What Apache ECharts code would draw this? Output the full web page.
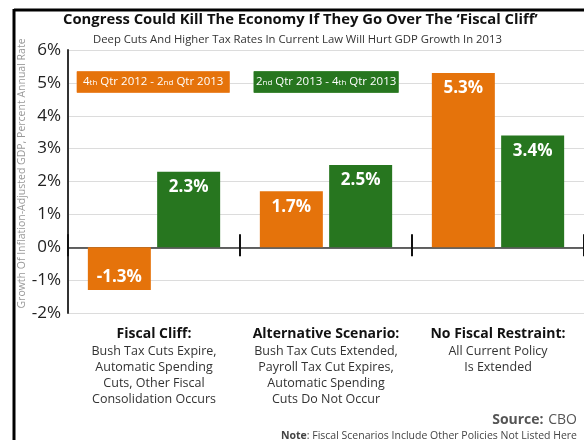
<!DOCTYPE html>
<html><head><meta charset="utf-8">
<script src="https://cdn.jsdelivr.net/npm/echarts@6/dist/echarts.min.js"></script>
<style>html,body{margin:0;padding:0;background:#fff}#c{width:584px;height:440px}</style>
</head><body><div id="c"></div>
<script>
var categories = ['Fiscal Cliff:', 'Alternative Scenario:', 'No Fiscal Restraint:'];
var descriptions = [
  ['Bush Tax Cuts Expire,', 'Automatic Spending', 'Cuts, Other Fiscal', 'Consolidation Occurs'],
  ['Bush Tax Cuts Extended,', 'Payroll Tax Cut Expires,', 'Automatic Spending', 'Cuts Do Not Occur'],
  ['All Current Policy', 'Is Extended']
];
var seriesNames = ['4th Qtr 2012 - 2nd Qtr 2013', '2nd Qtr 2013 - 4th Qtr 2013'];
var firstHalf = [-1.3, 1.7, 5.3];
var secondHalf = [2.3, 2.5, 3.4];
var yTicks = { min: -2, max: 6, interval: 1 };

var ORANGE = '#E5730B', GREEN = '#27761F';
var FONT = '"Open Sans", "Noto Sans", sans-serif';

function ordinalRich(s) {
  var parts = s.split(/(\d)(st|nd|rd|th)\b/);
  var out = '';
  for (var i = 0; i < parts.length; i++) {
    if (i % 3 === 2) out += '{s|' + parts[i] + '}';
    else if (parts[i]) out += '{n|' + parts[i] + '}';
  }
  return out;
}

function mkBarData(vals, color) {
  return vals.map(function (v) {
    return {
      value: v,
      itemStyle: { color: color },
      label: { position: v < 0 ? 'insideBottom' : 'insideTop', distance: v < 0 ? 4 : 7 }
    };
  });
}

var chart = echarts.init(document.getElementById('c'), null, { renderer: 'canvas' });
chart.setOption({
  animation: false,
  textStyle: { fontFamily: FONT },
  title: [
    { text: "Congress Could Kill The Economy If They Go Over The \u2018Fiscal Cliff\u2019", left: 58, top: 7,
      textStyle: { fontSize: 14.8, fontWeight: 'bold', color: '#111', fontFamily: FONT } },
    { text: 'Deep Cuts And Higher Tax Rates In Current Law Will Hurt GDP Growth In 2013', left: 88, top: 29,
      textStyle: { fontSize: 11.3, fontWeight: 'normal', color: '#333', fontFamily: FONT } },
    { text: '{b|Source:} {r|CBO}', right: 2, top: 406,
      textStyle: { fontWeight: 'normal', rich: { b: { fontSize: 14, fontWeight: 'bold', color: '#555', fontFamily: FONT }, r: { fontSize: 14, fontWeight: 'normal', color: '#555', fontFamily: FONT } } } },
    { text: '{b|Note}{r|: Fiscal Scenarios Include Other Policies Not Listed Here}', right: 2, top: 426,
      textStyle: { fontWeight: 'normal', rich: { b: { fontSize: 10.5, fontWeight: 'bold', color: '#444', fontFamily: FONT }, r: { fontSize: 10.5, fontWeight: 'normal', color: '#444', fontFamily: FONT } } } }
  ],
  graphic: [
    { type: 'line', shape: { x1: 14, y1: 10, x2: 584, y2: 10 }, style: { stroke: '#000', lineWidth: 3 } },
    { type: 'line', shape: { x1: 14, y1: 9, x2: 14, y2: 440 }, style: { stroke: '#000', lineWidth: 3 } }
  ],
  legend: {
    left: 67, top: 66, itemWidth: 0, itemHeight: 0, itemGap: 19, icon: 'rect', selectedMode: false,
    formatter: function (n) { return ordinalRich(n); },
    textStyle: {
      color: '#fff', padding: [4, 6, 4, 6], fontFamily: FONT,
      rich: {
        n: { fontSize: 11.5, color: '#fff', fontFamily: FONT, lineHeight: 13 },
        s: { fontSize: 8, color: '#fff', fontFamily: FONT, lineHeight: 13, padding: [2, 0, 0, 0] }
      }
    },
    data: [
      { name: seriesNames[0], textStyle: { backgroundColor: ORANGE, borderColor: '#f0a060', borderWidth: 0.5 } },
      { name: seriesNames[1], textStyle: { backgroundColor: GREEN, borderColor: '#5a9a52', borderWidth: 0.5, padding: [4, 2, 4, 2] } }
    ]
  },
  grid: { left: 68, right: -5, top: 50, bottom: 127, containLabel: false },
  xAxis: [
    { type: 'category', data: categories, position: 'bottom',
      axisLine: { show: false, onZero: false }, axisTick: { show: false }, splitLine: { show: false },
      axisLabel: {
        margin: 12, interval: 0,
        formatter: function (v, i) {
          return '{h|' + v + '}\n' + descriptions[i].map(function (d) { return '{d|' + d + '}'; }).join('\n');
        },
        rich: {
          h: { fontSize: 14, fontWeight: 'bold', color: '#111', fontFamily: FONT, lineHeight: 18 },
          d: { fontSize: 12.5, color: '#333', fontFamily: FONT, lineHeight: 16 }
        }
      } },
    { type: 'category', data: categories, position: 'bottom',
      axisLine: { show: true, onZero: true, lineStyle: { color: '#333', width: 1.5 } },
      axisTick: { show: true, inside: false, length: 9, lineStyle: { color: '#111', width: 2 } },
      axisLabel: { show: false } },
    { type: 'category', data: categories, position: 'bottom',
      axisLine: { show: false, onZero: true },
      axisTick: { show: true, inside: true, length: 13, lineStyle: { color: '#111', width: 2 } },
      axisLabel: { show: false } }
  ],
  yAxis: [
    { type: 'value', min: yTicks.min, max: yTicks.max, interval: yTicks.interval,
      name: 'Growth Of Inflation-Adjusted GDP, Percent Annual Rate',
      nameLocation: 'middle', nameGap: 40, nameRotate: 90, nameMoveOverlap: false,
      nameTextStyle: { fontSize: 10.5, color: '#999', fontFamily: FONT, padding: [0, 0, 0, 16] },
      axisLine: { show: true, lineStyle: { color: '#333', width: 2 } },
      axisTick: { show: false },
      axisLabel: { formatter: '{value}%', fontSize: 17, color: '#222', margin: 7, fontFamily: FONT },
      splitLine: { show: true, lineStyle: { color: '#dcdcdc', width: 1 } } },
    { type: 'value', min: yTicks.min, max: yTicks.max, interval: yTicks.interval, position: 'left',
      axisLine: { show: false }, axisTick: { show: false }, axisLabel: { show: false }, splitLine: { show: false } }
  ],
  series: [
    { name: seriesNames[0], type: 'bar', xAxisIndex: 0, yAxisIndex: 0, barWidth: 63, barGap: '10%',
      itemStyle: { color: ORANGE },
      label: { show: true, formatter: function (p) { return p.value.toFixed(1) + '%'; },
        color: '#fff', fontWeight: 'bold', fontSize: 17, fontFamily: FONT },
      data: mkBarData(firstHalf, ORANGE) },
    { name: seriesNames[1], type: 'bar', xAxisIndex: 0, yAxisIndex: 0, barWidth: 63, barGap: '10%',
      itemStyle: { color: GREEN },
      label: { show: true, formatter: function (p) { return p.value.toFixed(1) + '%'; },
        color: '#fff', fontWeight: 'bold', fontSize: 17, fontFamily: FONT },
      data: mkBarData(secondHalf, GREEN) }
  ]
});
</script></body></html>
